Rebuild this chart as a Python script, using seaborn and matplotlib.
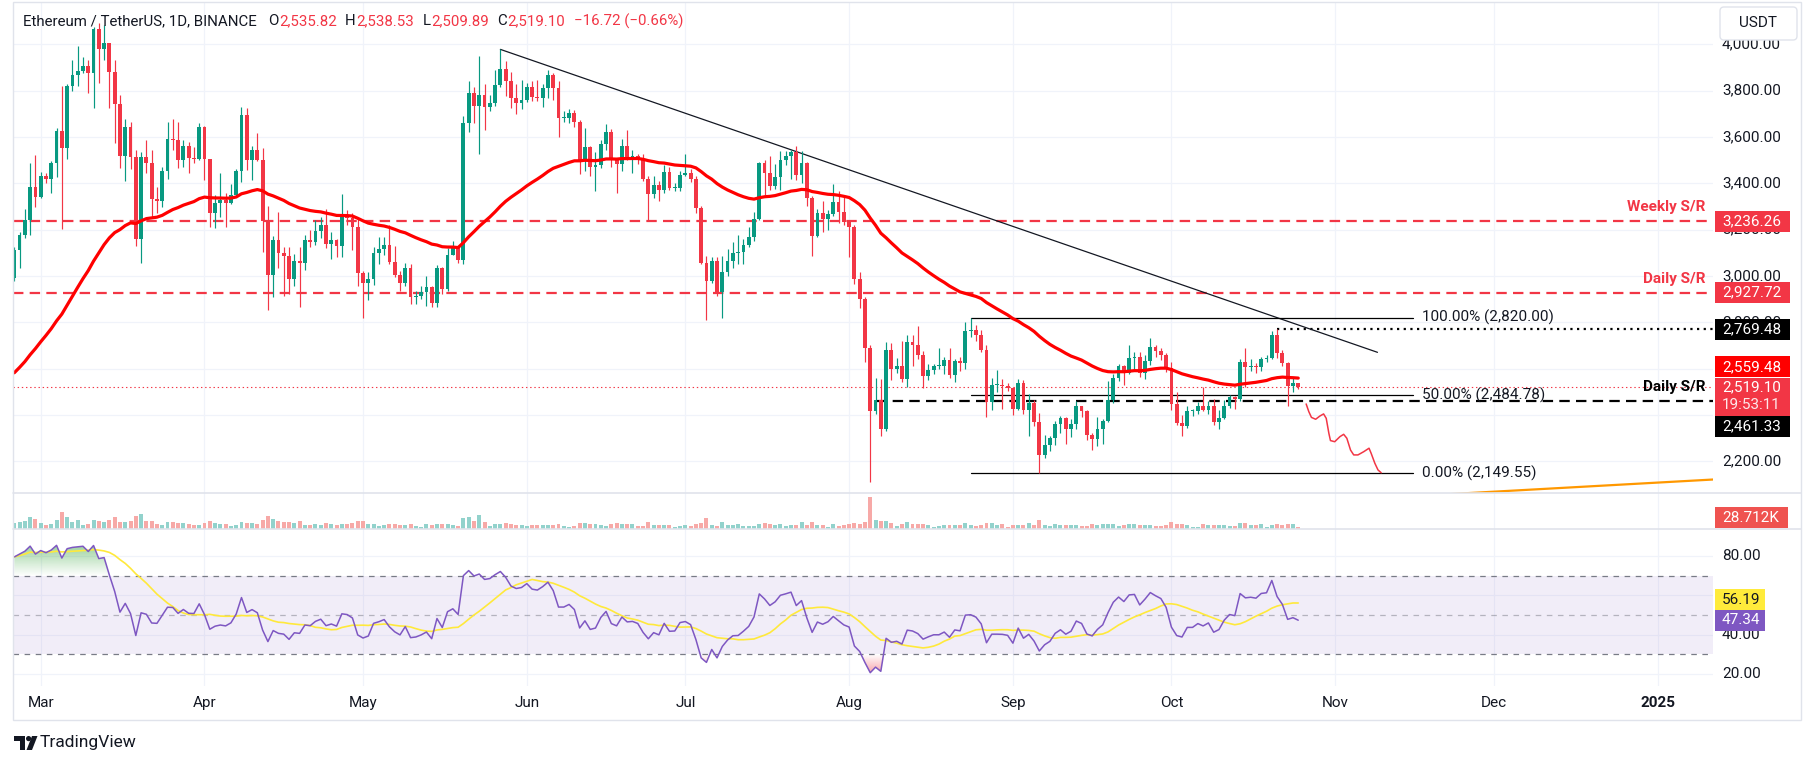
import matplotlib
matplotlib.use("Agg")
import matplotlib.pyplot as plt
import matplotlib.colors as mcolors
from matplotlib.patches import Rectangle, Polygon, Circle, FancyBboxPatch
from matplotlib.path import Path
from matplotlib.transforms import Affine2D, blended_transform_factory
import numpy as np
import pandas as pd
import seaborn as sns

sns.set_theme(style="white")
plt.rcParams['font.family'] = ['Roboto', 'DejaVu Sans']
plt.rcParams['lines.scale_dashes'] = False

W, H = 1814, 765

# ---------------- ETH/USDT daily candles, 2024-02-25 .. 2024-10-25 ----------------
start_date = "2024-02-25"
first_open = 2990.0

close = [
    3112, 3175, 3242, 3385, 3340,  # Feb 25-29
    3432, 3420, 3488, 3626, 3551, 3820, 3866, 3885, 3906, 3875, 4065, 3978, 4004, 3879, 3741, 3519,
    3642, 3515, 3158, 3515, 3489, 3332, 3325, 3453, 3591, 3587, 3501, 3561, 3508, 3505, 3644,  # Mar
    3503, 3273, 3313, 3328, 3315, 3350, 3455, 3695, 3501, 3544, 3502, 3235, 3005, 3155, 3100,
    3085, 2985, 3065, 3055, 3155, 3145, 3195, 3220, 3138, 3155, 3130, 3256, 3248, 3213, 3011,  # Apr
    2968, 2985, 3100, 3115, 3135, 3060, 3005, 2970, 3035, 2910, 2915, 2930, 2950, 2882, 3035, 2945,
    3092, 3122, 3070, 3660, 3790, 3735, 3780, 3728, 3745, 3825, 3892, 3843, 3767, 3745, 3760,  # May
    3817, 3774, 3767, 3810, 3868, 3810, 3680, 3680, 3705, 3666, 3498, 3558, 3469, 3480, 3568,
    3623, 3508, 3485, 3560, 3514, 3518, 3500, 3418, 3352, 3393, 3372, 3450, 3378, 3380, 3436,  # Jun
    3443, 3420, 3292, 3057, 2980, 3066, 2930, 3015, 3066, 3100, 3102, 3134, 3170, 3245, 3486, 3443,
    3386, 3426, 3501, 3518, 3537, 3436, 3486, 3335, 3172, 3270, 3245, 3268, 3317, 3275, 3234,  # Jul
    3213, 2985, 2900, 2688, 2415, 2462, 2340, 2681, 2597, 2609, 2555, 2716, 2702, 2660, 2568, 2592,
    2612, 2612, 2636, 2570, 2632, 2622, 2764, 2768, 2746, 2682, 2455, 2528, 2528, 2526, 2515,  # Aug
    2425, 2538, 2420, 2450, 2368, 2225, 2272, 2298, 2360, 2388, 2340, 2362, 2440, 2418, 2315,
    2295, 2340, 2372, 2466, 2560, 2612, 2580, 2645, 2650, 2580, 2632, 2695, 2675, 2658, 2602,  # Sep
    2448, 2365, 2350, 2415, 2415, 2440, 2422, 2440, 2370, 2385, 2440, 2475, 2468, 2630, 2605,
    2610, 2605, 2640, 2645, 2746, 2666, 2622, 2525, 2535.82, 2519.10,  # Oct
]
high = [
    3125, 3190, 3290, 3486, 3522,
    3450, 3446, 3494, 3640, 3820, 3830, 3932, 3993, 3947, 3932, 4073, 4090, 4083, 4007, 3932, 3781,
    3678, 3666, 3545, 3537, 3587, 3544, 3385, 3472, 3666, 3678, 3666, 3587, 3580, 3558, 3659,
    3647, 3503, 3350, 3443, 3357, 3397, 3460, 3731, 3724, 3561, 3616, 3551, 3300, 3172, 3278,
    3125, 3125, 3095, 3125, 3175, 3200, 3240, 3255, 3290, 3190, 3160, 3355, 3285, 3270, 3250,
    3020, 3015, 3125, 3170, 3170, 3220, 3130, 3020, 3055, 3050, 2935, 2955, 3000, 2955, 3045, 3040,
    3120, 3150, 3125, 3690, 3840, 3815, 3950, 3830, 3780, 3890, 3978, 3930, 3880, 3830, 3845,
    3835, 3840, 3845, 3830, 3888, 3875, 3840, 3712, 3720, 3715, 3675, 3640, 3560, 3535, 3585,
    3655, 3635, 3510, 3590, 3630, 3545, 3525, 3525, 3430, 3430, 3410, 3480, 3470, 3400, 3455,
    3525, 3460, 3430, 3300, 3085, 3080, 3080, 3085, 3115, 3145, 3175, 3160, 3210, 3275, 3490, 3500,
    3518, 3485, 3540, 3540, 3545, 3560, 3540, 3490, 3345, 3290, 3325, 3285, 3395, 3365, 3350,
    3240, 3220, 3015, 2910, 2700, 2560, 2555, 2715, 2710, 2645, 2720, 2745, 2745, 2785, 2675, 2620,
    2620, 2690, 2650, 2690, 2640, 2650, 2800, 2820, 2790, 2765, 2700, 2560, 2595, 2555, 2538,
    2520, 2555, 2550, 2490, 2465, 2410, 2315, 2310, 2375, 2395, 2390, 2380, 2460, 2440, 2420,
    2320, 2390, 2380, 2545, 2575, 2620, 2615, 2700, 2670, 2670, 2660, 2730, 2700, 2690, 2665,
    2630, 2500, 2400, 2440, 2425, 2455, 2520, 2460, 2470, 2420, 2465, 2485, 2480, 2640, 2690,
    2640, 2625, 2650, 2660, 2760, 2769.48, 2680, 2630, 2560, 2538.53,
]
low = [
    2980, 3035, 3163, 3177, 3299,
    3335, 3400, 3360, 3426, 3201, 3503, 3800, 3820, 3875, 3791, 3724, 3832, 3932, 3724, 3573, 3467,
    3411, 3460, 3130, 3057, 3443, 3256, 3270, 3299, 3417, 3544, 3467, 3472, 3443, 3486, 3501,
    3414, 3213, 3206, 3253, 3213, 3311, 3342, 3407, 3457, 3414, 3497, 3105, 2853, 2908, 3033,
    2915, 2920, 2955, 2867, 3025, 3125, 3135, 3165, 3120, 3075, 3080, 3080, 3220, 3110, 2955,
    2817, 2895, 2960, 3050, 3090, 3050, 2995, 2935, 2955, 2880, 2880, 2900, 2870, 2865, 2865, 2920,
    2935, 3090, 3055, 3050, 3620, 3660, 3525, 3630, 3710, 3735, 3815, 3775, 3725, 3700, 3720,
    3750, 3755, 3755, 3730, 3770, 3760, 3600, 3665, 3660, 3645, 3440, 3455, 3430, 3365, 3465,
    3545, 3470, 3360, 3455, 3500, 3445, 3485, 3410, 3240, 3335, 3325, 3360, 3370, 3365, 3365,
    3430, 3405, 3270, 3050, 2810, 2970, 2915, 2820, 3000, 3035, 3050, 3050, 3125, 3150, 3240, 3350,
    3370, 3375, 3370, 3480, 3420, 3415, 3400, 3300, 3088, 3168, 3190, 3200, 3260, 3230, 3220,
    3080, 2965, 2860, 2630, 2112, 2405, 2310, 2330, 2550, 2580, 2540, 2520, 2610, 2640, 2515, 2550,
    2575, 2600, 2575, 2560, 2540, 2590, 2600, 2738, 2720, 2670, 2392, 2420, 2500, 2425, 2502,
    2400, 2420, 2405, 2310, 2350, 2150, 2215, 2245, 2270, 2320, 2275, 2305, 2340, 2390, 2290,
    2250, 2265, 2275, 2370, 2450, 2545, 2530, 2575, 2590, 2565, 2555, 2615, 2650, 2635, 2585,
    2420, 2355, 2310, 2345, 2395, 2405, 2415, 2405, 2355, 2340, 2380, 2430, 2425, 2460, 2520,
    2590, 2580, 2590, 2630, 2640, 2645, 2610, 2440, 2500, 2509.89,
]
volume_k = [
    90, 105, 120, 180, 150,
    90, 60, 75, 135, 255, 180, 105, 135, 60, 75, 135, 120, 105, 135, 180, 105,
    105, 120, 195, 225, 120, 120, 75, 60, 105, 105, 90, 90, 75, 60, 60,
    90, 120, 90, 75, 75, 45, 60, 105, 90, 90, 75, 135, 195, 150, 120,
    105, 105, 90, 120, 60, 60, 75, 60, 90, 75, 60, 75, 75, 90, 120,
    120, 75, 75, 45, 60, 75, 75, 60, 60, 75, 45, 30, 75, 60, 75, 75,
    75, 60, 45, 165, 180, 120, 210, 105, 45, 75, 75, 90, 75, 60, 60,
    45, 60, 60, 60, 60, 60, 75, 45, 30, 45, 90, 90, 75, 75, 60,
    45, 75, 90, 75, 75, 75, 45, 45, 105, 60, 60, 60, 60, 30, 45,
    60, 45, 75, 90, 165, 60, 45, 105, 60, 60, 75, 45, 45, 45, 75, 90,
    75, 60, 75, 45, 60, 60, 105, 60, 105, 60, 60, 30, 75, 45, 60,
    75, 90, 75, 105, 480, 135, 120, 120, 90, 45, 75, 105, 75, 75, 75, 60,
    30, 45, 60, 60, 60, 60, 90, 60, 45, 60, 90, 90, 60, 75, 30,
    60, 60, 60, 90, 60, 135, 60, 45, 75, 60, 60, 60, 60, 45, 45,
    75, 60, 75, 75, 75, 45, 60, 75, 75, 60, 60, 60, 45, 45, 60,
    105, 75, 75, 60, 30, 30, 75, 60, 60, 60, 60, 45, 45, 90, 90,
    60, 60, 75, 30, 60, 75, 60, 75, 75, 28.712,
]

# indicator seeds read at the left edge of the chart
ema_span = 50
ema_seed = 2560.0
rsi_len = 14
rsi_seed_gain = 45.0
rsi_seed_loss = 14.0
rsi_ma_len = 14

# drawings on the chart
weekly_sr = 3236.26
daily_sr_top = 2927.72
daily_sr_low = 2461.33
daily_sr_low_from = "2024-08-06"
swing_high = 2769.48
swing_high_from = "2024-10-21"
trend_dates = ["2024-05-27", "2024-11-09"]
trend_prices = [3978.0, 2670.0]
fib_levels = [2820.00, 2484.78, 2149.55]
fib_names = ["100.00%", "50.00%", "0.00%"]
fib_from, fib_to = "2024-08-24", "2024-11-15 17:00"
wave_days = [244.5, 245.0, 245.5, 246.3, 247.1, 247.8, 248.3, 248.8, 249.1, 249.9, 250.9,
             251.6, 252.2, 252.9, 253.5, 254.3, 255.4, 256.4, 256.8, 257.5, 258.1, 258.7]
wave_prices = [2447, 2414, 2389, 2381, 2395, 2404, 2385, 2320, 2289, 2284, 2306,
               2316, 2299, 2248, 2227, 2227, 2241, 2256, 2234, 2191, 2162, 2150]
support_days = [270.0, 321.5]
support_prices = [2055.6, 2120.8]

header_ohlc = [("O", "2,535.82"), ("H", "2,538.53"), ("L", "2,509.89"), ("C", "2,519.10")]
header_change = "\u221216.72 (\u22120.66%)"
last_price = 2519.10
countdown = "19:53:11"
ema_last = 2559.48
rsi_last, rsi_ma_last = 47.34, 56.19
volume_last = "28.712K"

# scale labels that stay visible (the rest sit under the coloured tags)
price_ticks = [2200, 2800, 3000, 3200, 3400, 3600, 3800, 4000]
rsi_ticks = [20, 40, 80]

# ---------------- derived series ----------------
UP, DOWN, TEXT, GRID, FRAME = '#089981', '#F23645', '#131722', '#F0F3FA', '#E0E3EB'

n = len(close)
t0 = pd.Timestamp(start_date)
days = np.arange(n)
c = np.array(close, float)
hi = np.array(high, float)
lo = np.array(low, float)
o = np.r_[first_open, c[:-1]]
up = c >= o


def day_of(s):
    return (pd.Timestamp(s) - t0) / pd.Timedelta(days=1)


ema = pd.Series(np.r_[ema_seed, c]).ewm(span=ema_span, adjust=False).mean().to_numpy()[1:]

ag, al = rsi_seed_gain, rsi_seed_loss
rsi = []
for d in c - o:
    ag = (ag * (rsi_len - 1) + max(d, 0)) / rsi_len
    al = (al * (rsi_len - 1) + max(-d, 0)) / rsi_len
    rsi.append(100 - 100 / (1 + ag / al))
rsi = np.array(rsi)
rsi_ma = pd.Series(rsi).rolling(rsi_ma_len, min_periods=1).mean().to_numpy()

months = pd.date_range("2024-03-01", "2025-01-01", freq="MS")
month_days = [(m - t0).days for m in months]
month_names = [m.strftime("%b") for m in months[:-1]] + ["2025"]

# ---------------- figure ----------------
fig = plt.figure(figsize=(W / 100, H / 100), dpi=100)
to_px = Affine2D().scale(1 / W, -1 / H).translate(0, 1) + fig.transFigure


def rect(x0, y0, x1, y1):
    return [x0 / W, 1 - y1 / H, (x1 - x0) / W, (y1 - y0) / H]


ax_p = fig.add_axes(rect(12.7, 3, 1713, 493))
ax_v = fig.add_axes(rect(12.7, 493, 1713, 529))
ax_r = fig.add_axes(rect(12.7, 529, 1713, 686))
XLIM = (-0.3, 321.5)

for ax in (ax_p, ax_v, ax_r):
    ax.set_facecolor('none')
    for s in ax.spines.values():
        s.set_visible(False)
    for m in month_days:
        ax.axvline(m, color=GRID, lw=0.9, zorder=0)

# price pane
for p in range(2200, 4001, 200):
    ax_p.axhline(p, color=GRID, lw=0.9, zorder=0)

cols = np.where(up, UP, DOWN)
ax_p.vlines(days, lo, hi, colors=cols, lw=0.85, zorder=3)
ax_p.bar(days, np.maximum(np.abs(c - o), 4), bottom=np.minimum(o, c), width=0.72,
         color=cols, linewidth=0, zorder=4)
sns.lineplot(x=days, y=ema, ax=ax_p, color='#FF0000', linewidth=2.3, zorder=5)

ax_p.axhline(weekly_sr, color=DOWN, lw=1.6, dashes=(7.5, 4.5), zorder=2)
ax_p.axhline(daily_sr_top, color=DOWN, lw=1.6, dashes=(7.5, 4.5), zorder=2)
ax_p.plot([day_of(daily_sr_low_from), XLIM[1]], [daily_sr_low] * 2, color='black', lw=1.6,
          dashes=(7.5, 4.5), zorder=2)
ax_p.plot([day_of(swing_high_from), XLIM[1]], [swing_high] * 2, color='black', lw=1.6,
          dashes=(1.6, 3.2), zorder=2)
ax_p.axhline(last_price, color=DOWN, lw=0.8, dashes=(1, 2), zorder=2)
ax_p.plot([day_of(d) for d in trend_dates], trend_prices, color=TEXT, lw=0.9, zorder=2)
f0, f1 = day_of(fib_from), day_of(fib_to)
for lvl, name in zip(fib_levels, fib_names):
    ax_p.plot([f0, f1], [lvl, lvl], color='black', lw=0.9, zorder=2)
    ax_p.text(f1 + 1.8, lvl, f"{name} ({lvl:,.2f})", ha='left', va='center', fontsize=11,
              color=TEXT, zorder=6)
ax_p.plot(wave_days, wave_prices, color=DOWN, lw=1.1, zorder=6)
ax_p.plot(support_days, support_prices, color='#FF9800', lw=1.6, zorder=6)

yx = blended_transform_factory(ax_p.transAxes, ax_p.transData)
ax_p.text(0.9953, weekly_sr + 60, "Weekly S/R", transform=yx, ha='right', va='center',
          fontsize=11, color=DOWN, fontweight='bold')
ax_p.text(0.9953, daily_sr_top + 60, "Daily S/R", transform=yx, ha='right', va='center',
          fontsize=11, color=DOWN, fontweight='bold')
ax_p.text(0.9953, daily_sr_low + 58, "Daily S/R", transform=yx, ha='right', va='center',
          fontsize=11, color='black', fontweight='bold')

# volume pane
vol_df = pd.DataFrame({"day": days, "volume": volume_k, "dir": np.where(up, "up", "down")})
sns.barplot(data=vol_df, x="day", y="volume", hue="dir", native_scale=True, dodge=False,
            palette={"up": "#92D2CC", "down": "#F7A9A7"}, saturation=1, width=0.75,
            errorbar=None, legend=False, linewidth=0, ax=ax_v)

# RSI pane
for r in (20, 40, 60, 80):
    ax_r.axhline(r, color=GRID, lw=0.9, zorder=0)
ax_r.axhspan(30, 70, color='#7E57C2', alpha=0.1, lw=0, zorder=0)
ax_r.axhline(70, color='#787B86', lw=0.9, dashes=(4, 4), zorder=1)
ax_r.axhline(50, color='#787B86', lw=0.9, dashes=(4, 4), alpha=0.5, zorder=1)
ax_r.axhline(30, color='#787B86', lw=0.9, dashes=(4, 4), zorder=1)


def gradient_fill(ax, x, y, base, color, alpha, above):
    mask = y > base if above else y < base
    if not mask.any():
        return
    poly = ax.fill_between(x, base, y, where=mask, interpolate=True, color='none', lw=0)
    lo_v, hi_v = (base, y.max()) if above else (y.min(), base)
    g = np.linspace(0, 1, 256) if above else np.linspace(1, 0, 256)
    img = np.zeros((256, 1, 4))
    img[..., :3] = mcolors.to_rgb(color)
    img[:, 0, 3] = g * alpha
    im = ax.imshow(img, extent=[x.min(), x.max(), lo_v, hi_v], origin='lower', aspect='auto',
                   zorder=1)
    im.set_clip_path(Path.make_compound_path(*poly.get_paths()), transform=ax.transData)


gradient_fill(ax_r, days.astype(float), rsi, 70, '#4CAF50', 0.55, True)
gradient_fill(ax_r, days.astype(float), rsi, 30, '#F23645', 0.45, False)
sns.lineplot(x=days, y=rsi_ma, ax=ax_r, color='#FFE93B', linewidth=1.2, zorder=3)
sns.lineplot(x=days, y=rsi, ax=ax_r, color='#7E57C2', linewidth=1.1, zorder=4)

for ax in (ax_p, ax_v, ax_r):
    ax.set_xlim(*XLIM)
    ax.set_xlabel("")
    ax.set_ylabel("")
    ax.tick_params(left=False, bottom=False, labelleft=False, labelbottom=False)
ax_p.set_ylim(2062.6, 4178.3)
ax_v.set_ylim(0, 540)
ax_r.set_ylim(14.0, 93.7)


def y_px(ax, v):
    return H - ax.transData.transform((0, v))[1]


def x_px(ax, d):
    return ax.transData.transform((d, 0))[0]


def tag(y, s, fc, tc='white', w=75, h=21):
    fig.add_artist(Rectangle((1715, y - h / 2), w, h, transform=to_px, fc=fc, ec='none',
                             zorder=5))
    fig.text(1722, y, s, transform=to_px, ha='left', va='center', fontsize=11, color=tc,
             zorder=6)


# right price scale
for p in price_ticks:
    fig.text(1722, y_px(ax_p, p), f"{p:,.2f}", transform=to_px, ha='left', va='center',
             fontsize=11, color=TEXT, zorder=4)
tag(y_px(ax_p, weekly_sr), f"{weekly_sr:,.2f}", DOWN)
tag(y_px(ax_p, daily_sr_top), f"{daily_sr_top:,.2f}", DOWN)
tag(y_px(ax_p, swing_high), f"{swing_high:,.2f}", 'black')
tag(y_px(ax_p, ema_last) - 11, f"{ema_last:,.2f}", '#FF0000')
yl = y_px(ax_p, last_price)
fig.add_artist(Rectangle((1715, yl - 9.5), 75, 38, transform=to_px, fc=DOWN, ec='none', zorder=5))
fig.text(1722, yl, f"{last_price:,.2f}", transform=to_px, ha='left', va='center', fontsize=11,
         color='white', zorder=6)
fig.text(1722, yl + 18, countdown, transform=to_px, ha='left', va='center', fontsize=11,
         color='#FDE8EA', zorder=6)
tag(y_px(ax_p, daily_sr_low) + 26, f"{daily_sr_low:,.2f}", 'black')

# volume + RSI scale
tag(518, volume_last, '#EF5350', w=73)
for r in rsi_ticks:
    fig.text(1722, y_px(ax_r, r), f"{r:.2f}", transform=to_px, ha='left', va='center',
             fontsize=11, color=TEXT, zorder=4)
tag(y_px(ax_r, rsi_ma_last) - 3, f"{rsi_ma_last:.2f}", '#FFEB3B', tc=TEXT, w=50)
tag(y_px(ax_r, rsi_last), f"{rsi_last:.2f}", '#7E57C2', w=50)

# time scale
for d, name in zip(month_days, month_names):
    fig.text(x_px(ax_r, d), 703, name, transform=to_px, ha='center', va='center', fontsize=11,
             color=TEXT, fontweight='bold' if name == "2025" else 'normal', zorder=4)

# USDT box (covers the top of the 4,000 label, as on the original)
fig.add_artist(FancyBboxPatch((1720, 7), 77, 33, boxstyle="round,pad=0,rounding_size=4",
                              transform=to_px, fc='white', ec=FRAME, lw=1, zorder=7))
fig.text(1758, 23, "USDT", transform=to_px, ha='center', va='center', fontsize=11, color=TEXT,
         zorder=8)

# header legend
hs = 10.8
t = fig.text(23, 21, "Ethereum / TetherUS, 1D, BINANCE", transform=to_px, ha='left',
             va='center', fontsize=hs, color=TEXT, zorder=6)
for k, (lab, val) in enumerate(header_ohlc):
    t = ax_p.annotate(lab, xy=(1, 0.5), xycoords=t, xytext=(8 if k == 0 else 6, 0),
                      textcoords='offset points', ha='left', va='center', fontsize=hs,
                      color=TEXT, annotation_clip=False, zorder=6)
    t = ax_p.annotate(val, xy=(1, 0.5), xycoords=t, xytext=(0.5, 0), textcoords='offset points',
                      ha='left', va='center', fontsize=hs, color=DOWN, annotation_clip=False,
                      zorder=6)
ax_p.annotate(header_change, xy=(1, 0.5), xycoords=t, xytext=(6, 0), textcoords='offset points',
              ha='left', va='center', fontsize=hs, color=DOWN, annotation_clip=False, zorder=6)

# frame and pane separators
fig.add_artist(Rectangle((12.7, 2), 1788, 718, transform=to_px, fc='none', ec=FRAME, lw=1,
                         zorder=3))
for y in (493, 529):
    fig.add_artist(plt.Line2D([12.7, 1800.7], [y, y], transform=to_px, color=FRAME, lw=1.2,
                              zorder=3))

# TradingView mark
fig.add_artist(Polygon([(14, 736), (25, 736), (25, 750), (19.5, 750), (19.5, 741), (14, 741)],
                       closed=True, transform=to_px, fc=TEXT, ec='none', zorder=4))
fig.add_artist(Circle((28.6, 738.6), 2.6, transform=to_px, fc=TEXT, ec='none', zorder=4))
fig.add_artist(Polygon([(26.5, 750), (32, 736), (37.5, 736), (32, 750)], closed=True,
                       transform=to_px, fc=TEXT, ec='none', zorder=4))
fig.text(40, 743, "TradingView", transform=to_px, ha='left', va='center', fontsize=12.5,
         color=TEXT, zorder=4)

fig.savefig("out.png", dpi=100)
